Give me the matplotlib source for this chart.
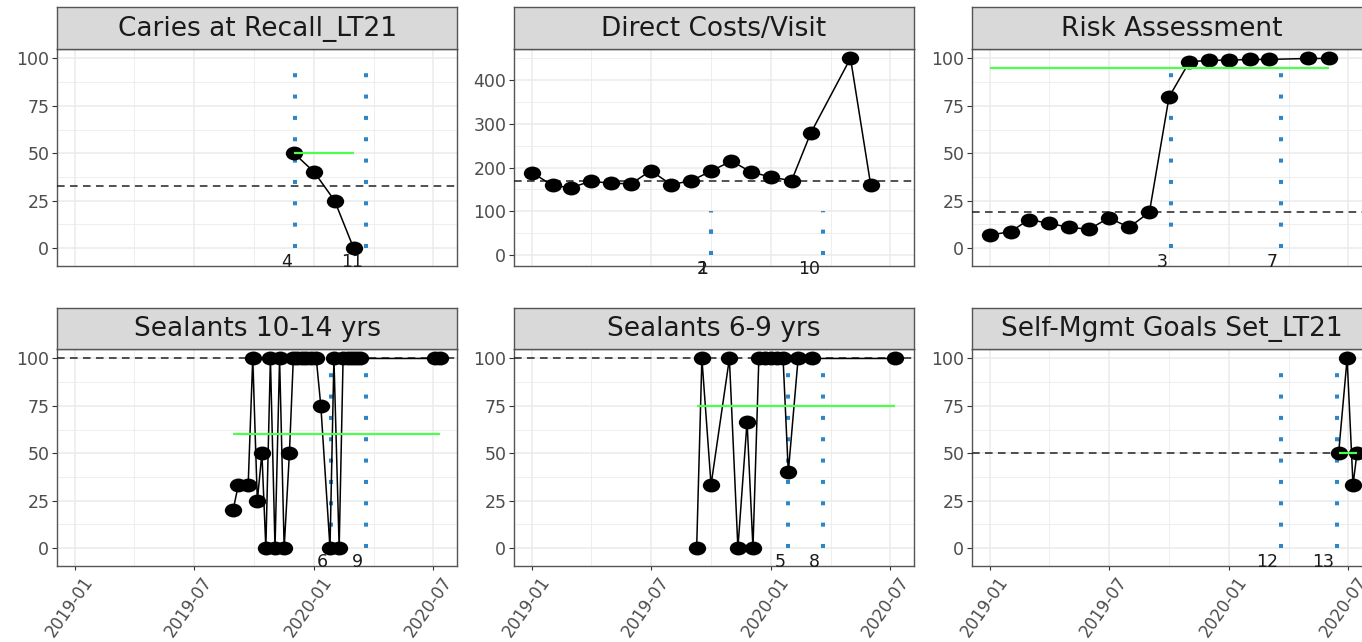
import numpy as np
import pandas as pd
import matplotlib
matplotlib.use("Agg")
import matplotlib.pyplot as plt
import matplotlib.dates as mdates
from matplotlib.ticker import AutoMinorLocator, FixedLocator
from matplotlib.path import Path
from matplotlib.transforms import Affine2D, ScaledTranslation

# ---- data ----
panel_titles = ["Caries at Recall_LT21", "Direct Costs/Visit", "Risk Assessment",
                "Sealants 10-14 yrs", "Sealants 6-9 yrs", "Self-Mgmt Goals Set_LT21"]

caries_dates = ["2019-12-01", "2020-01-01", "2020-02-01", "2020-03-01"]
caries_vals = [50, 40, 25, 0]

costs_dates = ["2019-01-01", "2019-02-01", "2019-03-01", "2019-04-01", "2019-05-01",
               "2019-06-01", "2019-07-01", "2019-08-01", "2019-09-01", "2019-10-01",
               "2019-11-01", "2019-12-01", "2020-01-01", "2020-02-01", "2020-03-01",
               "2020-05-01", "2020-06-01"]
costs_vals = [188, 159, 154, 169, 164, 163, 193, 161, 170, 192,
              215, 190, 178, 170, 278, 450, 159]

risk_dates = ["2019-01-01", "2019-02-01", "2019-03-01", "2019-04-01", "2019-05-01",
              "2019-06-01", "2019-07-01", "2019-08-01", "2019-09-01", "2019-10-01",
              "2019-11-01", "2019-12-01", "2020-01-01", "2020-02-01", "2020-03-01",
              "2020-05-01", "2020-06-01"]
risk_vals = [6.9, 8.6, 15, 13, 10.9, 9.9, 15.9, 10.9, 18.9, 79.7,
             98.2, 99.1, 99.1, 99.5, 99.5, 100, 100]

seal1014_dates = ["2019-08-30", "2019-09-07", "2019-09-22", "2019-09-29", "2019-10-06",
                  "2019-10-13", "2019-10-19", "2019-10-26", "2019-11-02", "2019-11-09",
                  "2019-11-16", "2019-11-24", "2019-11-30", "2019-12-06", "2019-12-13",
                  "2019-12-20", "2019-12-27", "2020-01-04", "2020-01-11", "2020-01-25",
                  "2020-01-31", "2020-02-08", "2020-02-14", "2020-02-22", "2020-02-28",
                  "2020-03-05", "2020-03-11", "2020-07-03", "2020-07-11"]
seal1014_vals = [20, 33.3, 33.3, 100, 25, 50, 0, 100, 0, 100,
                 0, 50, 100, 100, 100, 100, 100, 100, 75, 0,
                 100, 0, 100, 100, 100, 100, 100, 100, 100]

seal69_dates = ["2019-09-09", "2019-09-17", "2019-10-01", "2019-10-29", "2019-11-11",
                "2019-11-25", "2019-12-04", "2019-12-13", "2019-12-23", "2020-01-01",
                "2020-01-10", "2020-01-19", "2020-01-27", "2020-02-11", "2020-03-03",
                "2020-07-08"]
seal69_vals = [0, 100, 33.3, 100, 0, 66.7, 0, 100, 100, 100,
               100, 100, 40, 100, 100, 100]

selfmgmt_dates = ["2020-06-16", "2020-06-29", "2020-07-08", "2020-07-14"]
selfmgmt_vals = [50, 100, 33.3, 50]

baseline_vals = [32.5, 170, 19, 100, 100, 50]     # dashed reference line
target_vals = [50, None, 95, 60, 75, 50]          # green segment

vline_ids = ["1", "2", "3", "4", "5", "6", "7", "8", "9", "10", "11", "12", "13"]
vline_dates = ["2019-10-01", "2019-10-01", "2019-10-04", "2019-12-02", "2020-01-27",
               "2020-01-27", "2020-03-20", "2020-03-20", "2020-03-20", "2020-03-20",
               "2020-03-20", "2020-03-20", "2020-06-13"]
vline_panel = [1, 1, 2, 0, 4, 3, 2, 4, 3, 1, 0, 5, 5]
vline_yend = 100

x_ticks = ["2019-01-01", "2019-07-01", "2020-01-01", "2020-07-01"]
x_minor = ["2019-04-01", "2019-10-01", "2020-04-01"]

series = [(caries_dates, caries_vals), (costs_dates, costs_vals), (risk_dates, risk_vals),
          (seal1014_dates, seal1014_vals), (seal69_dates, seal69_vals),
          (selfmgmt_dates, selfmgmt_vals)]

# ---- layout (pixels of a 1362x642 canvas) ----
W, H = 1362, 642
col_left = [57, 514, 972]
row_top = [49, 349]
strip_top = [7, 308]
pan_w, pan_h = 400, 217

# dots in the reference are slightly wider than tall
circ = Path.unit_circle()
dot = Path(Affine2D().scale(1.25, 1.0).transform(circ.vertices), circ.codes)

plt.rcParams['font.family'] = ['DejaVu Sans']
fig = plt.figure(figsize=(W / 100, H / 100), dpi=100)


def px_axes(x, y, w, h):
    return fig.add_axes([x / W, 1 - (y + h) / H, w / W, h / H])


xlim = mdates.datestr2num(["2018-12-04", "2020-08-06"])
label_shift = ScaledTranslation(7 / 100, 0, fig.dpi_scale_trans)

for i, title in enumerate(panel_titles):
    r, c = divmod(i, 3)
    ax = px_axes(col_left[c], row_top[r], pan_w, pan_h)
    st = px_axes(col_left[c], strip_top[r], pan_w, row_top[r] - strip_top[r])

    # strip
    st.set_facecolor('#D9D9D9')
    st.set_xticks([])
    st.set_yticks([])
    for s in st.spines.values():
        s.set_color('#555555')
        s.set_linewidth(1.0)
    st.text(0.5, 0.48, title, ha='center', va='center', fontsize=19, color='#1A1A1A',
            transform=st.transAxes)

    dates = pd.to_datetime(series[i][0])
    vals = series[i][1]
    pct = title != "Direct Costs/Visit"

    # vertical event markers and their labels
    for vid, vd, vp in zip(vline_ids, vline_dates, vline_panel):
        if vp != i:
            continue
        xd = mdates.datestr2num(vd)
        ax.plot([xd, xd], [0, vline_yend], color='#2E86C8', lw=2.9,
                linestyle=(0, (1, 4.3)), dash_capstyle='butt', zorder=2)
        ax.annotate(vid, xy=(xd, 0), xytext=(-3, -5), textcoords='offset pixels',
                    ha='right', va='top', fontsize=12.5, color='#1A1A1A', zorder=3)

    ax.axhline(baseline_vals[i], color='#222222', lw=1.1, dashes=(5, 3.5), zorder=3)
    ax.plot(dates, vals, color='black', lw=1.1, zorder=4)
    ax.plot(dates, vals, linestyle='none', marker=dot, markersize=12.5,
            color='black', markeredgewidth=0, zorder=5)
    if target_vals[i] is not None:
        ax.hlines(target_vals[i], dates.min(), dates.max(), color='#4DFF4D', lw=1.6,
                  zorder=6)

    ax.set_xlim(xlim)
    if pct:
        ax.set_ylim(-9.5, 105)
        ax.set_yticks([0, 25, 50, 75, 100])
    else:
        ax.set_ylim(-25, 471)
        ax.set_yticks([0, 100, 200, 300, 400])
    ax.yaxis.set_minor_locator(AutoMinorLocator(2))
    ax.xaxis.set_major_locator(FixedLocator(mdates.datestr2num(x_ticks)))
    ax.xaxis.set_minor_locator(FixedLocator(mdates.datestr2num(x_minor)))
    ax.xaxis.set_major_formatter(mdates.DateFormatter('%Y-%m'))

    ax.grid(which='major', color='#EBEBEB', lw=1.1)
    ax.grid(which='minor', color='#EBEBEB', lw=0.6)
    ax.set_axisbelow(True)
    for s in ax.spines.values():
        s.set_color('#555555')
        s.set_linewidth(1.0)

    ax.tick_params(which='minor', length=0)
    ax.tick_params(axis='y', which='major', length=3.5, width=0.8, color='#333333',
                   labelsize=12.5, labelcolor='#4D4D4D', pad=2)
    if r == 0:
        ax.tick_params(axis='x', which='major', length=0, labelbottom=False)
    else:
        ax.tick_params(axis='x', which='major', length=3, width=0.8, color='#333333',
                       labelsize=12, labelcolor='#4D4D4D', pad=2)
        for lab in ax.get_xticklabels():
            lab.set_rotation(55)
            lab.set_ha('right')
            lab.set_va('top')
            lab.set_rotation_mode('anchor')
            lab.set_transform(lab.get_transform() + label_shift)

fig.savefig('out.png', dpi=100)
